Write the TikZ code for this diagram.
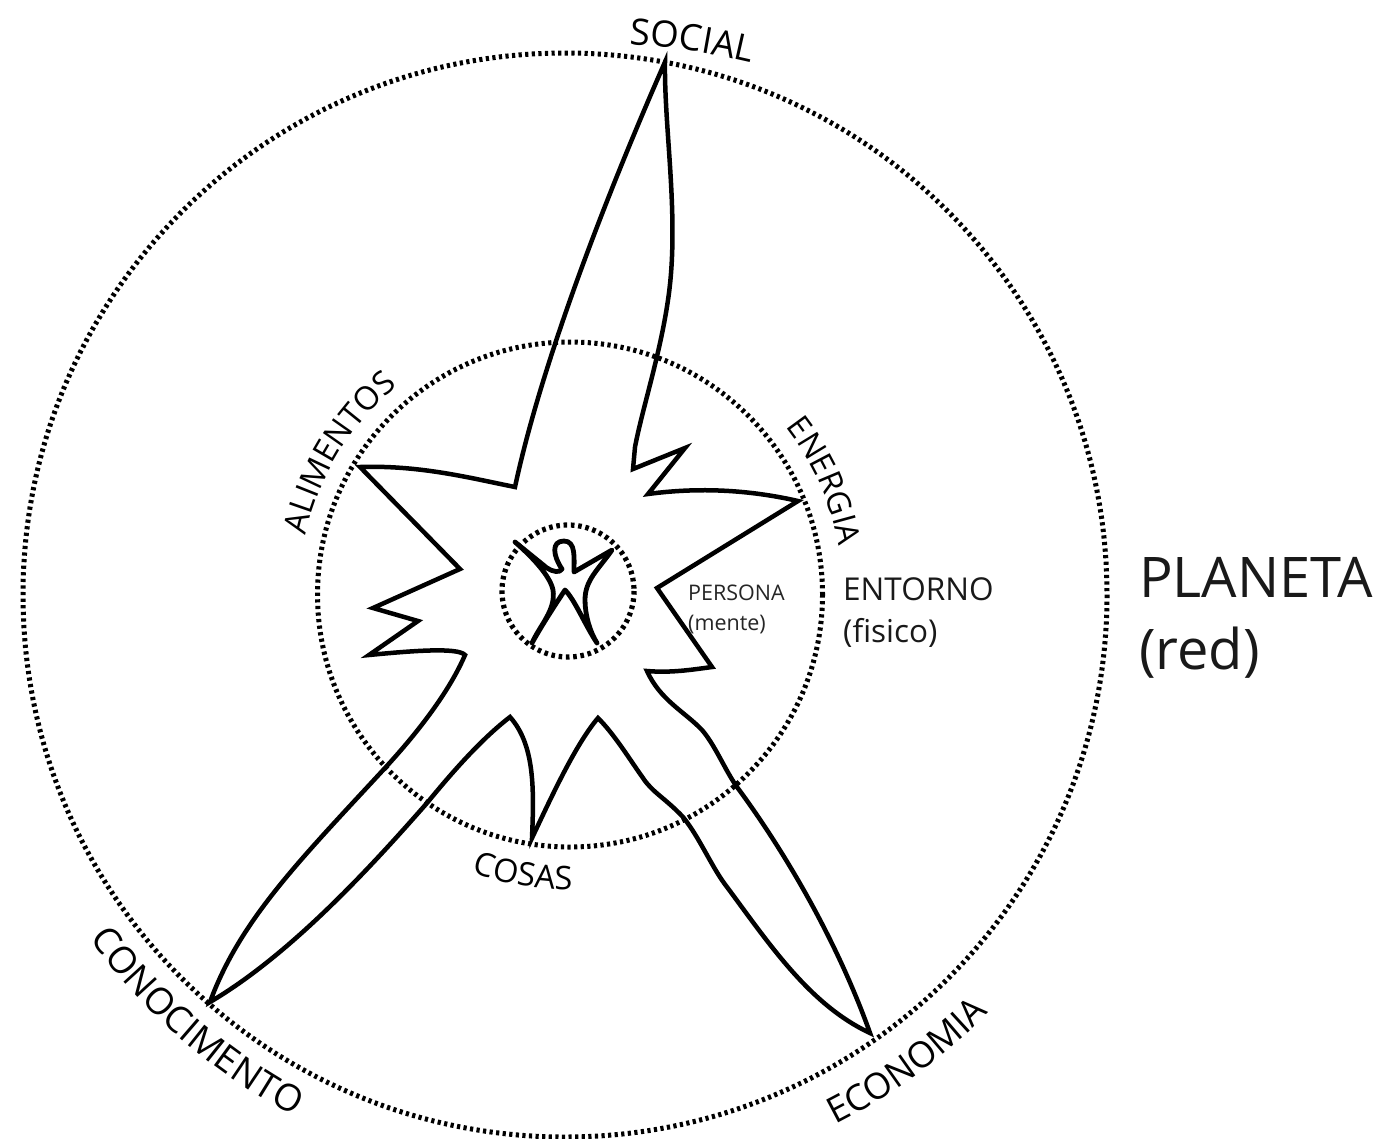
\documentclass[tikz,border=0pt]{standalone}
\usepackage{fontspec}
\usetikzlibrary{decorations.text}
\setmainfont{Open Sans}
\newcommand{\arclabel}[7]{% cx, cy, R, from, to, size, text
  \path[decorate,decoration={text along path,text align=center,
    text={|\fontsize{#6}{#6}\selectfont|#7}}]
    plot[domain=#4:#5,samples=60] ({#1+#3*cos(\x)},{#2+#3*sin(\x)});
}
\tikzset{
  ring/.style={draw=black,line width=5pt,dash pattern=on 3.2pt off 3.4pt},
  innerring/.style={draw=black,line width=5.2pt,dash pattern=on 3.6pt off 3.7pt},
  outline/.style={draw=black,line width=4.5pt,line join=miter,miter limit=6,line cap=round},
  figure/.style={draw=black,line width=4.8pt,line join=round,line cap=round},
  small/.style={inner sep=0pt,text=black!85,align=left,font=\fontsize{21.5}{30}\selectfont},
  mid/.style={inner sep=0pt,text=black!90,align=left,font=\fontsize{31.5}{42}\selectfont},
  big/.style={inner sep=0pt,text=black!90,align=left,font=\fontsize{56}{72}\selectfont}
}
\begin{document}
\begin{tikzpicture}[x=1pt,y=-1pt]
\useasboundingbox (0,0) rectangle (1383,1138);
\path[fill=white] (0,0) rectangle (1383,1138);
\draw[ring] (565,595) circle (542);
\draw[ring] (570,594.5) circle (252.5);
\draw[innerring] (568,591) circle (66);
% star
\draw[outline] (665,62)
  .. controls (664,130) and (680,220) .. (668,300)
  .. controls (660,355) and (642,410) .. (635,447)
  -- (633,469) -- (685,448) -- (648,494)
  .. controls (700,487) and (750,490) .. (798,501)
  -- (657,588) -- (712,667)
  .. controls (690,670) and (670,673) .. (647,671)
  .. controls (660,700) and (685,712) .. (702,730)
  .. controls (715,745) and (725,770) .. (737,787)
  .. controls (780,845) and (835,935) .. (870,1033)
  .. controls (810,1005) and (770,945) .. (727,887)
  .. controls (712,868) and (700,838) .. (683,817)
  .. controls (665,798) and (652,792) .. (643,778)
  .. controls (630,760) and (615,735) .. (598,718)
  .. controls (575,745) and (550,800) .. (532,838)
  .. controls (534,790) and (535,745) .. (510,717)
  .. controls (480,740) and (450,775) .. (427,803)
  .. controls (370,868) and (290,955) .. (210,1002)
  .. controls (240,920) and (300,860) .. (385,768)
  .. controls (420,730) and (450,690) .. (465,655)
  .. controls (458,647) and (410,651) .. (369,655)
  -- (418,621) -- (373,608) -- (460,569) -- (360,467)
  .. controls (420,465) and (470,478) .. (515,487)
  .. controls (540,370) and (600,210) .. (665,62) -- cycle;
% person
\draw[figure] (515,542) -- (547,568)
  .. controls (553,572) and (560,573) .. (562,569)
  .. controls (553,556) and (551,541) .. (564,541)
  .. controls (576,541) and (574,558) .. (574,572)
  -- (612,550)
  .. controls (598,570) and (585,580) .. (585,600)
  .. controls (585,615) and (590,632) .. (597,643)
  .. controls (585,625) and (575,600) .. (565,590)
  .. controls (555,605) and (542,625) .. (532,643)
  .. controls (540,625) and (556,610) .. (553,590)
  .. controls (550,575) and (530,555) .. (515,542) -- cycle;
% labels
\arclabel{585.5}{743}{700}{-95.35}{-67.35}{36.5}{SOCIAL}
\arclabel{570}{594.5}{271}{175}{248}{32.5}{ALIMENTOS}
\arclabel{570}{594.5}{273}{-60.5}{12.5}{32}{ENERGIA}
\arclabel{570}{594.5}{295}{130.5}{68.5}{32.5}{COSAS}
\arclabel{565}{595}{587}{164.3}{97.3}{37}{CONOCIMENTO}
\arclabel{565}{595}{595}{85}{22.5}{36}{ECONOMIA}
\node[small,anchor=north west] (persona) at (688,585) {PERSONA\\(mente)};
\node[mid,anchor=north west] (entorno) at (843,577) {ENTORNO\\(fisico)};
\node[big,anchor=north west] (planeta) at (1139,557) {PLANETA\\(red)};
\end{tikzpicture}
\end{document}
